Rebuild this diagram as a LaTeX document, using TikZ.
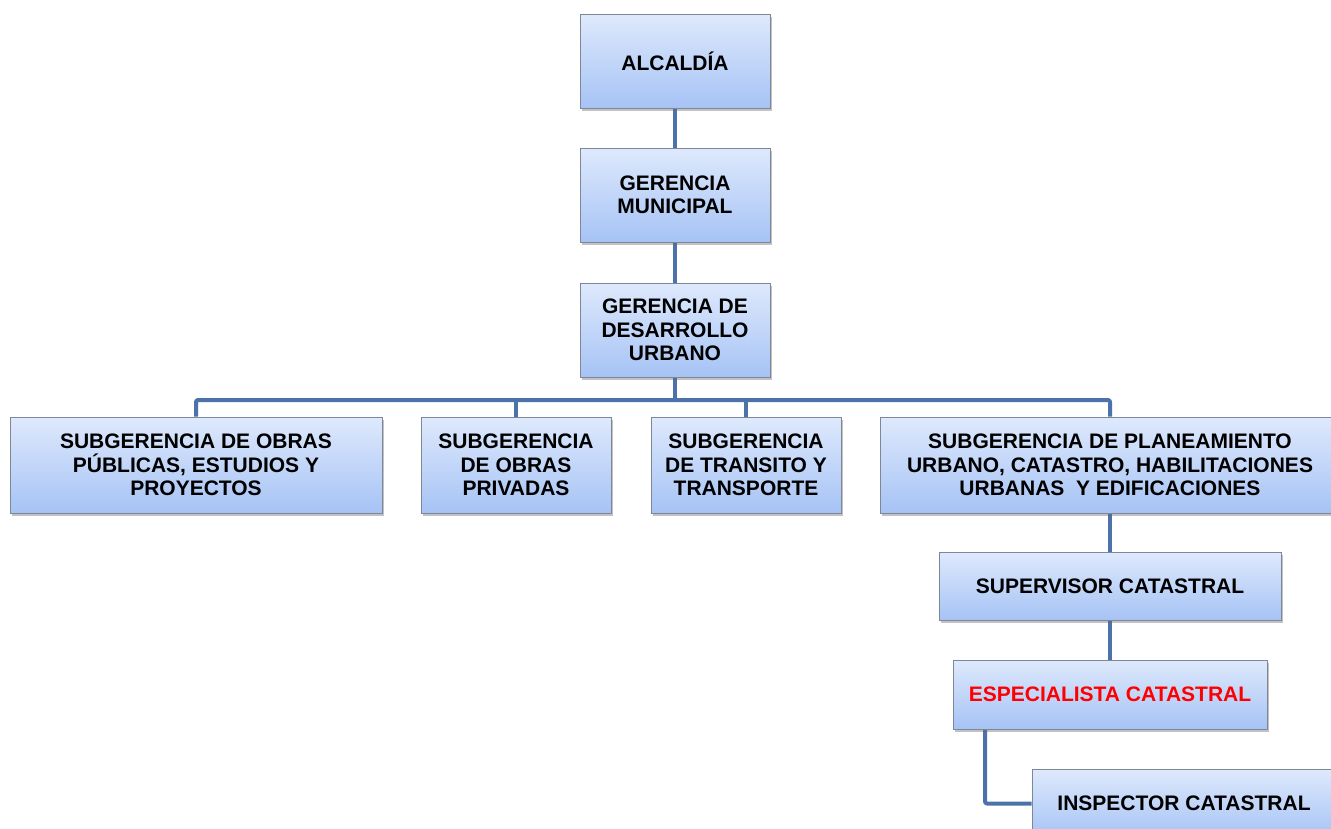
\documentclass[tikz,border=0pt]{standalone}
\usepackage{fontspec}
\setmainfont{Liberation Sans}
\usetikzlibrary{shadows,backgrounds}
\definecolor{boxtop}{HTML}{DEE9FC}
\definecolor{boxbot}{HTML}{A6C3F5}
\definecolor{boxline}{HTML}{7D8796}
\definecolor{conncol}{HTML}{4B73A9}
\tikzset{
  orgbox/.style={draw=boxline, line width=0.8pt, top color=boxtop, bottom color=boxbot,
    align=center, inner sep=0pt, anchor=center,
    font=\bfseries\fontsize{21}{23.5}\selectfont,
    drop shadow={opacity=0.4, shadow xshift=2pt, shadow yshift=-3pt, fill=black!60}},
  conn/.style={draw=conncol, line width=4pt, rounded corners=2pt, line join=round}
}
\begin{document}
\begin{tikzpicture}[x=1pt,y=-1pt]
\useasboundingbox (0,0) rectangle (1331,828);
\node[orgbox, minimum width=190pt, minimum height=94pt] (alc) at (675,61) {ALCALDÍA};
\node[orgbox, minimum width=190pt, minimum height=94pt] (gm) at (675,195) {GERENCIA\\MUNICIPAL};
\node[orgbox, minimum width=190pt, minimum height=94pt] (gdu) at (675,330) {GERENCIA DE\\DESARROLLO\\URBANO};
\node[orgbox, minimum width=372pt, minimum height=96pt] (s1) at (196,465) {SUBGERENCIA DE OBRAS\\PÚBLICAS, ESTUDIOS Y\\PROYECTOS};
\node[orgbox, minimum width=190pt, minimum height=96pt] (s2) at (516,465) {SUBGERENCIA\\DE OBRAS\\PRIVADAS};
\node[orgbox, minimum width=190pt, minimum height=96pt] (s3) at (746,465) {SUBGERENCIA\\DE TRANSITO Y\\TRANSPORTE};
\node[orgbox, minimum width=460pt, minimum height=96pt] (s4) at (1110,465) {SUBGERENCIA DE PLANEAMIENTO\\URBANO, CATASTRO, HABILITACIONES\\URBANAS\ \ Y EDIFICACIONES};
\node[orgbox, minimum width=342pt, minimum height=68pt] (sup) at (1110,586) {SUPERVISOR CATASTRAL};
\node[orgbox, minimum width=314pt, minimum height=69pt, text=red] (esp) at (1110,694.5) {ESPECIALISTA CATASTRAL};
\node[orgbox, minimum width=304pt, minimum height=69pt] (insp) at (1184,803.5) {INSPECTOR CATASTRAL};
\coordinate (b0) at (675,400);
\coordinate (b1) at (196,400);
\coordinate (b2) at (516,400);
\coordinate (b3) at (746,400);
\coordinate (b4) at (1110,400);
\coordinate (e1) at (985,729);
\begin{scope}[on background layer]
\draw[conn] (alc.south) -- (gm.north);
\draw[conn] (gm.south) -- (gdu.south);
\draw[conn] (gdu.south) -- (b0);
\draw[conn] (s1.north) -- (b1) -- (b4) -- (s4.north);
\draw[conn] (b2) -- (s2.north);
\draw[conn] (b3) -- (s3.north);
\draw[conn] (s4.south) -- (sup.north);
\draw[conn] (sup.south) -- (esp.north);
\draw[conn] (e1) |- (insp.west);
\end{scope}
\end{tikzpicture}
\end{document}
